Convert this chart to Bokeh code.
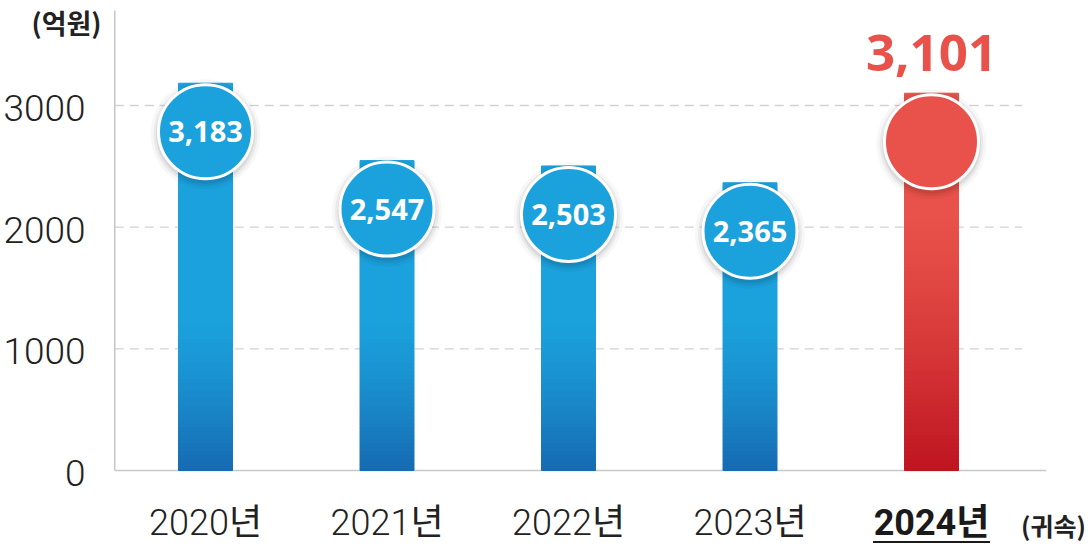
from bokeh.plotting import figure
from bokeh.models import Range1d
from bokeh.core.properties import value
from bokeh.embed import file_html
from bokeh.resources import INLINE

# ---- data ----
categories = ["2020년", "2021년", "2022년", "2023년", "2024년"]
values = [3183, 2547, 2503, 2365, 3101]
value_labels = ["3,183", "2,547", "2,503", "2,365", "3,101"]
y_ticks = [0, 1000, 2000, 3000]
y_tick_labels = ["0", "1000", "2000", "3000"]
highlight = 4
unit_label = "(억원)"
note_label = "(귀속)"

# ---- geometry (pixel layout of the canvas) ----
W, H = 1090, 544
PX_PER_CAT = 181.5          # horizontal pixels per category
FIRST_CENTER_PX = 205       # x pixel of first category centre
ZERO_PX = 470               # y pixel of value 0
PX_PER_UNIT = 0.121667      # vertical pixels per value unit

X0 = -FIRST_CENTER_PX / PX_PER_CAT
X1 = X0 + W / PX_PER_CAT
Y1 = ZERO_PX / PX_PER_UNIT
Y0 = -(H - ZERO_PX) / PX_PER_UNIT


def dx(px):
    return px / PX_PER_CAT


def dy(px):
    return px / PX_PER_UNIT


def px_x(px):
    return X0 + dx(px)


def px_y(px):
    return Y1 - dy(px)


BLUE = (27, 161, 220)
BLUE_DARK = (22, 106, 178)
RED = (232, 82, 74)
RED_DARK = (190, 20, 32)
TXT = "#222222"


def hexc(c):
    return "#%02x%02x%02x" % tuple(int(round(v)) for v in c)


def mix(a, b, t):
    return tuple(a[j] + (b[j] - a[j]) * t for j in range(3))


p = figure(width=W, height=H, output_backend="svg", toolbar_location=None,
           x_range=Range1d(X0, X1), y_range=Range1d(Y0, Y1),
           min_border=0, x_axis_type=None, y_axis_type=None)
p.outline_line_color = None
p.background_fill_color = "white"
p.border_fill_color = "white"
p.grid.visible = False

n = len(categories)
xs = list(range(n))
left_edge = -0.5
right_grid = n - 0.5
right_axis = n - 0.5 + dx(24)
top_axis = px_y(10)

# dashed grid lines
gy = [t for t in y_ticks if t > 0]
p.segment(x0=[left_edge] * len(gy), y0=gy, x1=[right_grid] * len(gy), y1=gy,
          line_color="#d2d2d2", line_width=1.3, line_dash="9 6")

# axis lines
p.segment(x0=[left_edge, left_edge], y0=[0, 0], x1=[right_axis, left_edge],
          y1=[0, top_axis], line_color="#c8c8c8", line_width=1.6)

# y tick labels
p.text(x=[px_x(85)] * len(y_ticks), y=[t - dy(2.5) for t in y_ticks],
       text=y_tick_labels, text_align="right", text_baseline="middle",
       text_font=value("'Roboto Light', Roboto"), text_font_size="37px",
       text_color=TXT)

# bars: solid upper part + stepped gradient at the bottom
bar_w = dx(54)
SLICE_PX = 4
base_cols = [hexc(RED if i == highlight else BLUE) for i in xs]
grad_slices = [65 if i == highlight else 38 for i in xs]
p.vbar(x=xs, top=values,
       bottom=[min(dy(s * SLICE_PX), v) for s, v in zip(grad_slices, values)],
       width=bar_w, fill_color=base_cols, line_color=base_cols, line_width=1)

gx, gb, gt, gc = [], [], [], []
for i, v in enumerate(values):
    top_c = RED if i == highlight else BLUE
    bot_c = RED_DARK if i == highlight else BLUE_DARK
    ns = grad_slices[i]
    for k in range(ns):
        frac = 1 - (k + 0.5) / ns
        gx.append(i)
        gb.append(dy(k * SLICE_PX))
        gt.append(dy((k + 1) * SLICE_PX))
        gc.append(hexc(mix(top_c, bot_c, frac ** 1.3)))
p.vbar(x=gx, top=gt, bottom=gb, width=bar_w, fill_color=gc, line_color=gc,
       line_width=1)

# circles (top of the white ring sits at the value)
R_OUT = 48.5
cy = [v - dy(R_OUT) for v in values]
for s, a in [(110, 0.03), (104, 0.05), (99, 0.07)]:
    p.scatter(x=xs, y=[c - dy(2.5) for c in cy], size=s, marker="circle",
              fill_color="black", fill_alpha=a, line_color=None)
p.scatter(x=xs, y=cy, size=94, marker="circle", fill_color=base_cols,
          line_color="white", line_width=3)

# value labels
inner = [i for i in xs if i != highlight]
p.text(x=[xs[i] for i in inner], y=[cy[i] for i in inner],
       text=[value_labels[i] for i in inner], text_align="center",
       text_baseline="middle", text_color="white",
       text_font=value("Open Sans"), text_font_style="bold", text_font_size="29px")
p.text(x=[xs[highlight]], y=[values[highlight] + dy(40)],
       text=[value_labels[highlight]], text_align="center",
       text_baseline="middle", text_color=hexc(RED),
       text_font=value("Open Sans"), text_font_style="bold", text_font_size="51px")

# category labels
normal = [i for i in xs if i != highlight]
cat_y = -dy(52.5)
p.text(x=normal, y=[cat_y] * len(normal), text=[categories[i] for i in normal],
       text_align="center", text_baseline="middle",
       text_font=value("'Roboto Light', 'Noto Sans CJK KR'"),
       text_font_size="36px", text_color=TXT)
p.text(x=[highlight], y=[cat_y], text=[categories[highlight]],
       text_align="center", text_baseline="middle",
       text_font=value("Roboto, 'Noto Sans CJK KR'"), text_font_style="bold",
       text_font_size="36px", text_color="#1a1a1a")
p.segment(x0=[highlight - dx(58.5)], y0=[-dy(71.5)], x1=[highlight + dx(58.5)],
          y1=[-dy(71.5)], line_color="#1a1a1a", line_width=2)

# unit / note texts
p.text(x=[px_x(66)], y=[px_y(22)], text=[unit_label], text_align="center",
       text_baseline="middle", text_font=value("Noto Sans CJK KR"),
       text_font_style="bold", text_font_size="27px", text_color=TXT)
p.text(x=[px_x(1053)], y=[px_y(524)], text=[note_label], text_align="center",
       text_baseline="middle", text_font=value("Noto Sans CJK KR"),
       text_font_style="bold", text_font_size="25px", text_color=TXT)

open("out.html", "w").write(file_html(p, INLINE))
